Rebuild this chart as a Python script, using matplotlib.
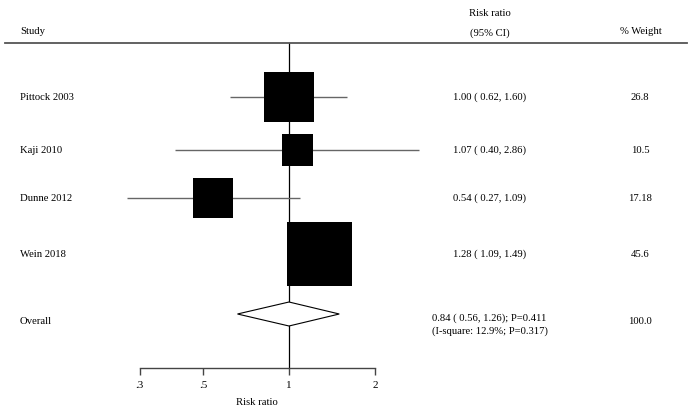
import numpy as np
import matplotlib
matplotlib.use("Agg")
import matplotlib.pyplot as plt
from matplotlib.patches import Polygon

plt.rcParams['font.family'] = ['Liberation Serif', 'DejaVu Serif']

# data
studies = ["Pittock 2003", "Kaji 2010", "Dunne 2012", "Wein 2018"]
rr = [1.00, 1.07, 0.54, 1.28]
lo = [0.62, 0.40, 0.27, 1.09]
hi = [1.60, 2.86, 1.09, 1.49]
weights = [26.8, 10.5, 17.18, 45.6]
weight_labels = ["26.8", "10.5", "17.18", "45.6"]
ci_labels = ["1.00 ( 0.62, 1.60)", "1.07 ( 0.40, 2.86)",
             "0.54 ( 0.27, 1.09)", "1.28 ( 1.09, 1.49)"]
overall_label = "Overall"
overall_lines = ["0.84 ( 0.56, 1.26); P=0.411", "(I-square: 12.9%; P=0.317)"]
overall_weight = "100.0"
# diamond as drawn in the picture (left, centre, right)
diamond = [0.66, 1.0, 1.50]
xticks = [0.3, 0.5, 1, 2]
xticklabels = [".3", ".5", "1", "2"]

# layout (pixel rows from top)
row_y = [97, 150, 198, 254]
overall_y = 314
header_y = 43
axis_y = 368

W, H = 694, 411
fig = plt.figure(figsize=(W / 100, H / 100), dpi=100)
ax = fig.add_axes([0, (H - axis_y) / H, 1, axis_y / H])
ax.set_xscale('log')
ax.set_xlim(np.exp(-289 / 124), np.exp((W - 289) / 124))
ax.set_ylim(axis_y, 0)

for s in ['top', 'right', 'left']:
    ax.spines[s].set_visible(False)
ax.spines['bottom'].set_bounds(xticks[0], xticks[-1])
ax.spines['bottom'].set_color('#444444')
ax.spines['bottom'].set_linewidth(1.0)
ax.set_yticks([])
ax.set_xticks(xticks)
ax.set_xticklabels(xticklabels, fontsize=8)
ax.xaxis.set_minor_locator(matplotlib.ticker.NullLocator())
ax.tick_params(axis='x', direction='out', length=5, width=1.0, color='#444444', pad=4)

# vertical line at 1
ax.plot([1, 1], [header_y, axis_y], color='black', lw=0.9, zorder=1)

# header line
ax.axhline(header_y, xmin=5 / W, xmax=687 / W, color='#555555', lw=1.3)

# CI lines and squares
ax.hlines(row_y, lo, hi, color='#666666', lw=1.0, zorder=2)
ax.scatter(rr, row_y, marker='s', s=np.array(weights) * 48,
           color='black', edgecolors='none', zorder=3)

# diamond
d = Polygon([[diamond[0], overall_y], [diamond[1], overall_y - 12],
             [diamond[2], overall_y], [diamond[1], overall_y + 12]],
            closed=True, facecolor='white', edgecolor='black', lw=0.8, zorder=3)
ax.add_patch(d)

tr = ax.get_yaxis_transform()
fs = 7.7
# headers
ax.text(20 / W, 32, "Study", transform=tr, fontsize=fs, va='center', ha='left')
ax.text(490 / W, 13, "Risk ratio", transform=tr, fontsize=fs, va='center', ha='center')
ax.text(490 / W, 33, "(95% CI)", transform=tr, fontsize=fs, va='center', ha='center')
ax.text(641 / W, 32, "% Weight", transform=tr, fontsize=fs, va='center', ha='center')

for name, y, ci, wl in zip(studies, row_y, ci_labels, weight_labels):
    ax.text(20 / W, y, name, transform=tr, fontsize=fs, va='center', ha='left')
    ax.text(490 / W, y, ci, transform=tr, fontsize=fs, va='center', ha='center')
    ax.text(640 / W, y, wl, transform=tr, fontsize=fs, va='center', ha='center')

ax.text(20 / W, overall_y + 7, overall_label, transform=tr, fontsize=fs, va='center', ha='left')
for i, line in enumerate(overall_lines):
    ax.text(432 / W, overall_y + 4 + 13 * i, line, transform=tr, fontsize=fs,
            va='center', ha='left')
ax.text(640 / W, overall_y + 7, overall_weight, transform=tr, fontsize=fs, va='center', ha='center')

# x label centred on axis line
ax.text(np.sqrt(xticks[0] * xticks[-1]), axis_y + 34, "Risk ratio", fontsize=fs,
        ha='center', va='center', clip_on=False)

fig.savefig("out.png", dpi=100)
